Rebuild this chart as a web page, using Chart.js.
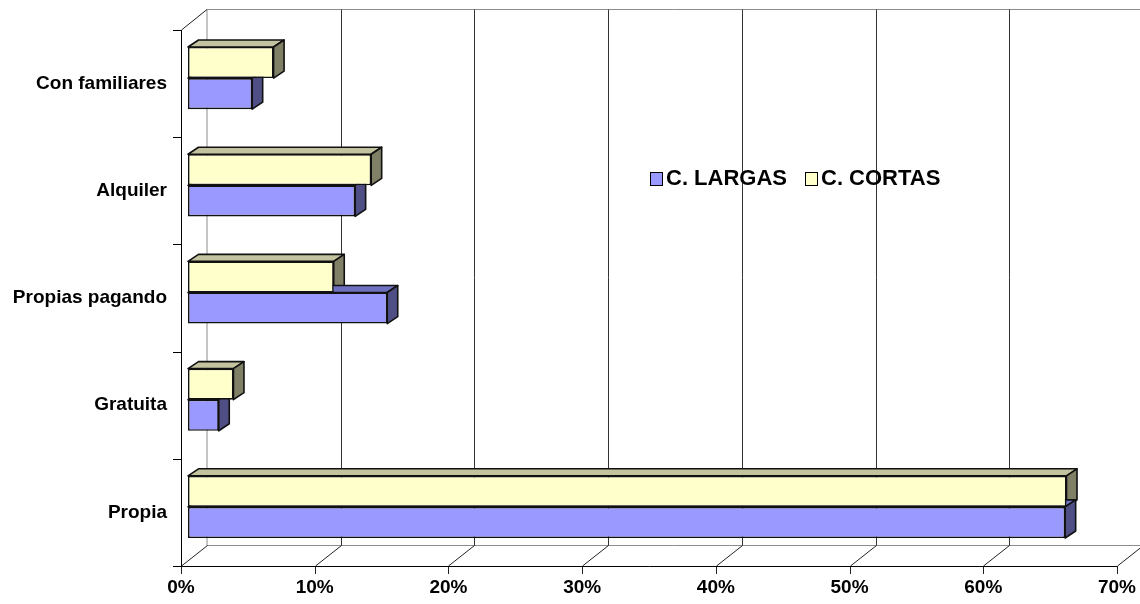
<!DOCTYPE html>
<html>
<head>
<meta charset="utf-8">
<script src="https://cdn.jsdelivr.net/npm/chart.js@4"></script>
<style>
  body { margin: 0; background: #fff; }
  #wrap { width: 1140px; height: 604px; }
</style>
</head>
<body>
<div id="wrap"><canvas id="myChart"></canvas></div>
<script>
// categories top to bottom
const categories = ["Con familiares", "Alquiler", "Propias pagando", "Gratuita", "Propia"];
const cortas = [6.4, 13.7, 10.9, 3.4, 65.7];
const largas = [4.8, 12.5, 14.9, 2.3, 65.6];
const xTicks = [0, 10, 20, 30, 40, 50, 60, 70];

const DEPTH_X = 26, DEPTH_Y = -20.5;   // back wall offset
const BAR_DX = 10.5, BAR_DY = -7;      // bar depth
const BAR_SHIFT_X = 7, BAR_SHIFT_Y = -5.5;
const font = { family: "Arial, 'Liberation Sans', sans-serif", size: 19, weight: "bold" };

const walls = {
  id: "walls",
  beforeDatasetsDraw(chart) {
    const { ctx, chartArea: a, scales: { x } } = chart;
    ctx.save();
    ctx.lineWidth = 1;
    // back wall frame
    ctx.strokeStyle = "#8c8c8c";
    ctx.beginPath();
    ctx.moveTo(a.left + DEPTH_X, a.bottom + DEPTH_Y);
    ctx.lineTo(a.left + DEPTH_X, a.top + DEPTH_Y);
    ctx.lineTo(chart.width, a.top + DEPTH_Y);
    ctx.moveTo(a.left + DEPTH_X, a.bottom + DEPTH_Y);
    ctx.lineTo(chart.width, a.bottom + DEPTH_Y);
    ctx.stroke();
    // grid lines on back wall + floor diagonals
    xTicks.forEach((v) => {
      const px = Math.round(x.getPixelForValue(v)) + 0.5;
      if (v > 0) {
        ctx.strokeStyle = "#333";
        ctx.beginPath();
        ctx.moveTo(px + DEPTH_X, a.bottom + DEPTH_Y);
        ctx.lineTo(px + DEPTH_X, a.top + DEPTH_Y);
        ctx.stroke();
      }
      ctx.strokeStyle = "#222";
      ctx.beginPath();
      ctx.moveTo(px, a.bottom);
      ctx.lineTo(px + DEPTH_X, a.bottom + DEPTH_Y);
      ctx.moveTo(px, a.bottom);
      ctx.lineTo(px, a.bottom + 8);
      ctx.stroke();
    });
    // left side wall
    ctx.strokeStyle = "#222";
    ctx.beginPath();
    ctx.moveTo(a.left + 0.5, a.top);
    ctx.lineTo(a.left + DEPTH_X, a.top + DEPTH_Y);
    ctx.stroke();
    ctx.strokeStyle = "#000";
    ctx.beginPath();
    ctx.moveTo(a.left + 0.5, a.top);
    ctx.lineTo(a.left + 0.5, a.bottom + 0.5);
    ctx.lineTo(a.right, a.bottom + 0.5);
    const band = (a.bottom - a.top) / categories.length;
    for (let i = 0; i <= categories.length; i++) {
      const py = Math.round(a.top + i * band) + 0.5;
      ctx.moveTo(a.left - 8, py);
      ctx.lineTo(a.left, py);
    }
    ctx.stroke();
    ctx.restore();

    // bar depth faces, shifted to the middle of the depth
    ctx.save();
    ctx.translate(BAR_SHIFT_X, BAR_SHIFT_Y);
    chart.data.datasets.forEach((ds, i) => {
      chart.getDatasetMeta(i).data.forEach((bar) => {
        const p = bar.getProps(["x", "y", "base", "height"], true);
        const top = p.y - p.height / 2, bot = p.y + p.height / 2;
        ctx.lineWidth = 1.6;
        ctx.strokeStyle = "#111";
        ctx.lineJoin = "round";
        ctx.fillStyle = ds.topColor;
        ctx.beginPath();
        ctx.moveTo(p.base, top);
        ctx.lineTo(p.x, top);
        ctx.lineTo(p.x + BAR_DX, top + BAR_DY);
        ctx.lineTo(p.base + BAR_DX, top + BAR_DY);
        ctx.closePath();
        ctx.fill();
        ctx.stroke();
        ctx.fillStyle = ds.sideColor;
        ctx.beginPath();
        ctx.moveTo(p.x, top);
        ctx.lineTo(p.x + BAR_DX, top + BAR_DY);
        ctx.lineTo(p.x + BAR_DX, bot + BAR_DY);
        ctx.lineTo(p.x, bot);
        ctx.closePath();
        ctx.fill();
        ctx.stroke();
      });
    });
  },
  afterDatasetsDraw(chart) {
    chart.ctx.restore();
  },
  afterDraw(chart) {
    // legend inside the plot
    const ctx = chart.ctx;
    const items = [chart.data.datasets[1], chart.data.datasets[0]];
    const pos = [650, 805];
    ctx.save();
    ctx.font = "bold 22px Arial, 'Liberation Sans', sans-serif";
    ctx.textBaseline = "middle";
    items.forEach((ds, i) => {
      ctx.fillStyle = ds.backgroundColor;
      ctx.fillRect(pos[i], 172, 12, 13);
      ctx.strokeStyle = "#000";
      ctx.lineWidth = 1;
      ctx.strokeRect(pos[i] + 0.5, 172.5, 12, 13);
      ctx.fillStyle = "#000";
      ctx.fillText(ds.label, pos[i] + 16, 179);
    });
    ctx.restore();
  }
};

new Chart(document.getElementById("myChart"), {
  type: "bar",
  data: {
    labels: categories,
    datasets: [
      { label: "C. CORTAS", data: cortas, backgroundColor: "#FFFFCC", topColor: "#C3C3A0", sideColor: "#808066",
        borderColor: "#111", borderWidth: 1.6, borderSkipped: false, clip: false },
      { label: "C. LARGAS", data: largas, backgroundColor: "#9999FF", topColor: "#7070C0", sideColor: "#4F4F85",
        borderColor: "#111", borderWidth: 1.6, borderSkipped: false, clip: false },
    ],
  },
  options: {
    indexAxis: "y",
    responsive: true,
    maintainAspectRatio: false,
    animation: false,
    categoryPercentage: 0.58,
    barPercentage: 1,
    layout: { padding: { top: 30, right: 23, left: 0, bottom: 0 } },
    plugins: { legend: { display: false }, tooltip: { enabled: false } },
    scales: {
      x: {
        min: 0, max: 70,
        afterFit: (s) => { s.height = 38; s.paddingRight = 0; s.paddingLeft = 0; },
        afterBuildTicks: (s) => { s.ticks = xTicks.map((v) => ({ value: v })); },
        ticks: { callback: (v) => v + "%", font, color: "#000", padding: 10, maxRotation: 0 },
        grid: { display: false, drawTicks: false },
        border: { display: false },
      },
      y: {
        afterFit: (s) => { s.width = 181; s.paddingTop = 0; s.paddingBottom = 0; },
        ticks: { font, color: "#000", padding: 14 },
        grid: { display: false, drawTicks: false },
        border: { display: false },
      },
    },
  },
  plugins: [walls],
});
</script>
</body>
</html>
